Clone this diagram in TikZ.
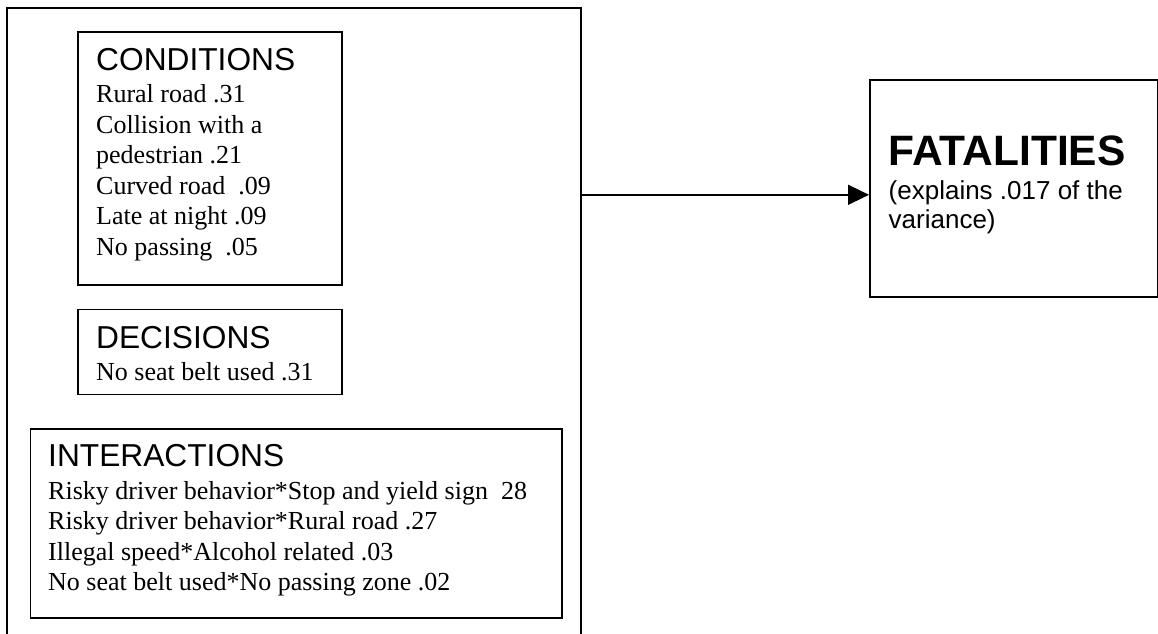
\documentclass[tikz,border=0pt]{standalone}
\usepackage{fontspec}
\setmainfont{Liberation Serif}
\newfontfamily\headfont{Liberation Sans}
\usetikzlibrary{positioning,arrows.meta}

\newcommand{\boxtitle}[1]{{\headfont\fontsize{31.7}{32}\selectfont\rule{0pt}{24pt}#1}}

\begin{document}
\begin{tikzpicture}[x=1pt, y=-1pt,
box/.style ={draw, rectangle, line width=1.6pt, inner sep=0pt, anchor=north west},
txt/.style ={inner sep=0pt, align=left, font=\fontsize{26}{30.5}\selectfont}]
\useasboundingbox (0,0) rectangle (1158,633);

\node[box, minimum width=574pt, minimum height=640pt] (Factors) at (6,7) {};
\node[box, minimum width=264pt, minimum height=253pt] (Conditions) at (77,31) {};
\node[box, minimum width=264pt, minimum height=85pt, below=23pt of Conditions.south west, anchor=north west] (Decisions) {};
\node[box, minimum width=531.5pt, minimum height=189pt] (Interactions) at (29.5,428) {};
\node[box, minimum width=288pt, minimum height=217pt] (Fatalities) at (869,79) {};

\node[txt] (ConditionsText) [below right=15.7pt and 19pt of Conditions.north west]
  {\boxtitle{CONDITIONS}\\[1.5pt]
   Rural road .31\\ Collision with a\\ pedestrian .21\\ Curved road~ .09\\
   Late at night .09\\ No passing~ .05};
\node[txt] (DecisionsText) [below right=15.7pt and 19pt of Decisions.north west]
  {\boxtitle{DECISIONS}\\[1pt] No seat belt used .31};
\node[txt] (InteractionsText) [below right=14.7pt and 18.5pt of Interactions.north west]
  {\boxtitle{INTERACTIONS}\\[2pt]
   Risky driver behavior*Stop and yield sign~ 28\\
   Risky driver behavior*Rural road .27\\
   Illegal speed*Alcohol related .03\\
   No seat belt used*No passing zone .02};
\node[txt, font=\headfont\fontsize{26}{29}\selectfont] (FatalitiesText)
  [below right=55.5pt and 19.5pt of Fatalities.north west]
  {{\bfseries\fontsize{42.5}{43}\selectfont\rule{0pt}{31pt}FATALITIES}\\[5pt]
   (explains .017 of the\\ variance)};

\coordinate (Tip) at ([yshift=-6.5pt]Fatalities.west);
\draw[-{Triangle[length=21pt,width=20pt]}, line width=1.6pt] (Factors.east |- Tip) -- (Tip);
\end{tikzpicture}
\end{document}
